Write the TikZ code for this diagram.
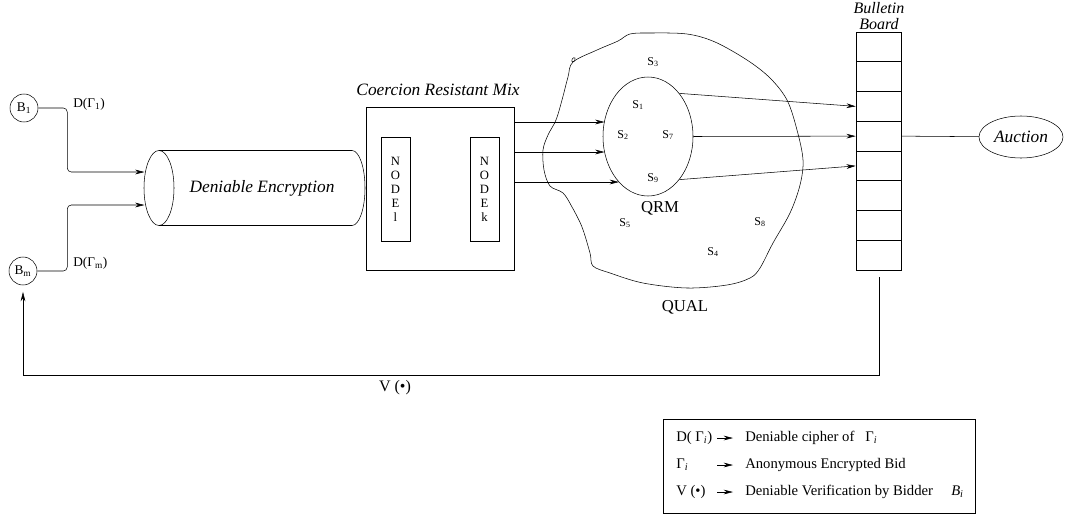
\documentclass[tikz,border=0pt]{standalone}
\usepackage{fontspec}
\setmainfont{Liberation Serif}
\usetikzlibrary{shapes.geometric,arrows.meta}

\begin{document}
\begin{tikzpicture}[x=0.75pt,y=0.75pt,yscale=-1,xscale=1,
  lbl/.style={inner sep=0.75pt,font=\fontsize{10}{12}\selectfont},
  site/.style={inner sep=0.75pt,font=\fontsize{9}{11}\selectfont},
  big/.style={inner sep=0.75pt,font=\fontsize{12.5}{15}\selectfont},
  bigit/.style={inner sep=0.75pt,font=\fontsize{13}{15}\selectfont\itshape},
  legtxt/.style={inner sep=0.75pt,anchor=west,font=\fontsize{11}{13}\selectfont},
  bidder/.style={draw,circle,minimum size=21pt,inner sep=0pt,font=\fontsize{10}{12}\selectfont},
  nodebox/.style={draw,minimum width=21.75pt,minimum height=78pt,inner sep=0pt,align=center,font=\fontsize{9.5}{10.5}\selectfont},
  cell/.style={draw,minimum width=33.75pt,minimum height=22.3pt,inner sep=0pt},
  arr/.style={-{Stealth[length=7pt,width=3.5pt]}}]
%set diagram left start at 0, and has height of 525
\path (0,0) rectangle (1066,525);

%Shape: Circle
\node (b1) [bidder] at (24,108) {B\textsubscript{1}};
\node (bm) [bidder] at (23,271) {B\textsubscript{m}};
% Text Node
\node (dg1) [lbl,anchor=west] at (72,104) {D(Γ\textsubscript{1})};
% Text Node
\node (dgm) [lbl,anchor=west] at (72,263) {D(Γ\textsubscript{m})};

%Shape: Cylinder
\draw (159,188) ellipse [x radius=15, y radius=37.5];
\draw (159,150.5) -- (352,150.5) arc [start angle=-90, end angle=90, x radius=13, y radius=37.5] -- (159,225.5);
\coordinate (encin1) at (144.5,172);
\coordinate (encin2) at (144.5,205);
% Text Node
\node (enc) [bigit] at (262,188) {Deniable Encryption};

%Curve Lines
\draw [arr,rounded corners=3pt] (b1.east) -- ++(29,0) |- (encin1);
\draw [arr,rounded corners=3pt] (bm.east) -- ++(30,0) |- (encin2);

%Shape: Rectangle
\node (crm) [draw,minimum width=111pt,minimum height=122.25pt,inner sep=0pt] at (440,188.5) {};
\node (nd1) [nodebox] at (395.5,189) {N\\O\\D\\E\\l};
\node (ndk) [nodebox] at (484.5,189) {N\\O\\D\\E\\k};
% Text Node
\node (crmtitle) [bigit] at (438,90) {Coercion Resistant Mix};

%Shape: Free Drawing
\draw plot [smooth cycle, tension=0.55] coordinates {(573,62) (597,50) (618,41) (630,34) (650,33) (687,34) (715,42) (747,60) (770,78) (787,100) (797,130) (803,160) (800,185) (790,213) (773,243) (760,268) (750,278) (727,285) (687,288) (643,283) (610,273) (593,266) (590,253) (582,227) (572,207) (563,193) (550,186) (544,170) (543,150) (548,135) (556,120) (562,100) (568,77)};
\draw (573,62) .. controls (570,62) and (573,56) .. (575,58) .. controls (576,60) and (574,62) .. (573,62);

%Shape: Ellipse
\node (qrm) [draw,ellipse,minimum width=67.5pt,minimum height=89.25pt,inner sep=0pt] at (648,136.5) {};
\coordinate (q1) at (604.5,122);
\coordinate (q2) at (604.5,152);
\coordinate (q3) at (619,182);
\draw [arr] (crm.east |- q1) -- (q1);
\draw [arr] (crm.east |- q2) -- (q2);
\draw [arr] (crm.east |- q3) -- (q3);

% Text Node
\node (s3) [site] at (653,62) {S\textsubscript{3}};
\node (s1) [site] at (638,105) {S\textsubscript{1}};
\node (s2) [site] at (623,135) {S\textsubscript{2}};
\node (s7) [site] at (668,135) {S\textsubscript{7}};
\node (s9) [site] at (653,178) {S\textsubscript{9}};
\node (s5) [site] at (625,223) {S\textsubscript{5}};
\node (s8) [site] at (760,222) {S\textsubscript{8}};
\node (s4) [site] at (713,252) {S\textsubscript{4}};
\node (qrmlbl) [big] at (660,208) {QRM};
\node (qual) [big] at (685,307) {QUAL};

%Shape: Bulletin board cells
\foreach \i in {1,...,8}
  \node (bb\i) [cell] at (878.5,{32+29.75*(\i-0.5)}) {};
% Text Node
\node (bbtitle) [inner sep=0pt,align=center,font=\fontsize{12}{11.5}\selectfont\itshape] at (879,16) {Bulletin\\Board};

%Straight Lines
\draw [arr] (qrm.54) -- (bb3.west);
\draw [arr] (qrm.east) -- (bb4.west);
\draw [arr] (qrm.-54) -- (bb5.west);

%Shape: Ellipse
\node (auc) [draw,ellipse,minimum width=63pt,minimum height=31.5pt,inner sep=0pt,font=\fontsize{13}{15}\selectfont\itshape] at (1021,137) {Auction};
\draw (bb4.east) -- (auc);

%Straight Lines
\coordinate (fbtop) at (879,277);
\coordinate (fbcorner) at (23,375);
\draw [arr,shorten >=5pt] (fbtop) |- (fbcorner) -- (bm);
% Text Node
\node (vlbl) [inner sep=0.75pt,font=\fontsize{12}{14}\selectfont] at (395,388) {V (•)};

%Shape: Rectangle
\draw (663,419) rectangle (975,513);
% Text Node
\node (k1) [legtxt] at (675,438) {D( Γ\textsubscript{\textit{i}})};
\node (d1) [legtxt] at (744,438) {Deniable cipher of};
\node (g1) [legtxt] at (864,438) {Γ\textsubscript{\textit{i}}};
\node (k2) [legtxt] at (675,465) {Γ\textsubscript{\textit{i}}};
\node (d2) [legtxt] at (744,465) {Anonymous Encrypted Bid};
\node (k3) [legtxt] at (675,492) {V (•)};
\node (d3) [legtxt] at (744,492) {Deniable Verification by Bidder};
\node (bi) [legtxt] at (950,492) {\textit{B}\textsubscript{\textit{i}}};
\draw [arr] (d1.west) ++(-27,0) -- ++(16,0);
\draw [arr] (d2.west) ++(-27,0) -- ++(16,0);
\draw [arr] (d3.west) ++(-27,0) -- ++(16,0);
\end{tikzpicture}
\end{document}
